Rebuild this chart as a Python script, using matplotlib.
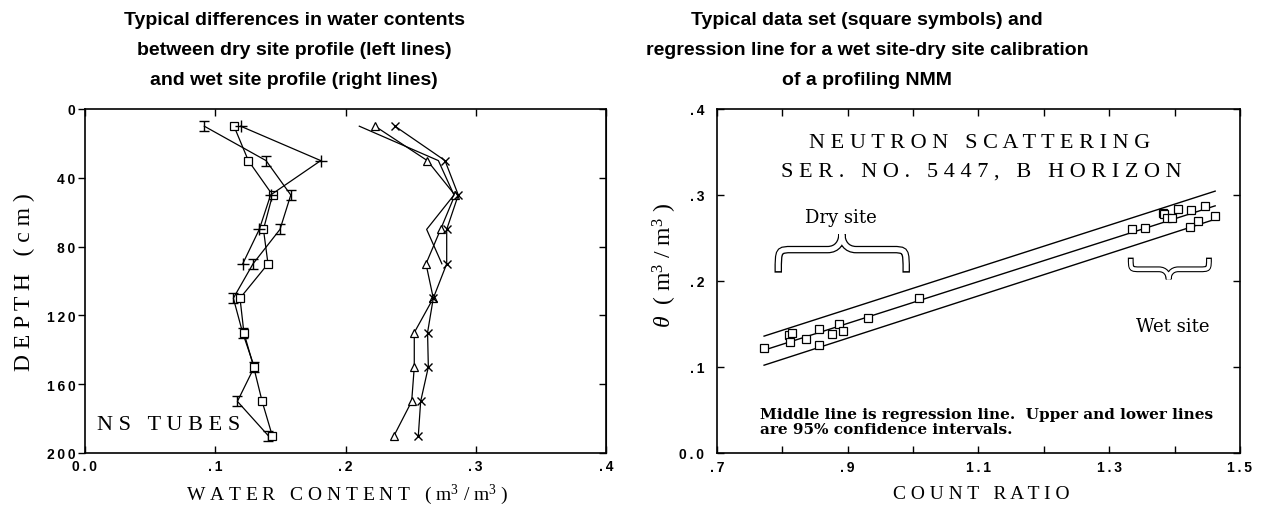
import numpy as np
import matplotlib
matplotlib.use('Agg')
import matplotlib.pyplot as plt
from matplotlib.path import Path
from matplotlib.patches import PathPatch

plt.rcParams['mathtext.fontset'] = 'custom'
plt.rcParams['mathtext.rm'] = 'Liberation Serif'
plt.rcParams['mathtext.it'] = 'Liberation Serif:italic'

# ---- left panel: water content profiles ----
depths = [10, 30, 50, 70, 90, 110, 130, 150, 170, 190]
dry_i = [0.0916, 0.139, 0.158, 0.1497, 0.129, 0.1139, 0.121, 0.130, 0.117, 0.1408]
dry_sq = [0.1144, 0.1254, 0.144, 0.137, 0.1405, 0.119, 0.122, 0.1295, 0.136, 0.1438]
dry_plus = [0.1195, 0.181, 0.1425, 0.1338, 0.1211]          # depths 10..90
wet_tri = [0.2227, 0.2628, 0.284, 0.273, 0.2618, 0.2674, 0.2528, 0.2528, 0.2508, 0.2372]
wet_x = [0.238, 0.2764, 0.2866, 0.2777, 0.2777, 0.2674, 0.263, 0.2636, 0.2577, 0.2559]
wet_plain = [0.2106, 0.2713, 0.2833, 0.2623, 0.274]         # depths 10..90

left_xticks = [0.0, 0.1, 0.2, 0.3, 0.4]
left_xlabels = ['0.0', '.1', '.2', '.3', '.4']
left_yticks = [0, 40, 80, 120, 160, 200]

# ---- right panel: calibration ----
count_ratio = [0.7717, 0.8103, 0.8147, 0.812, 0.8367, 0.856, 0.856, 0.8764, 0.8863, 0.893,
               0.9315, 1.0087, 1.335, 1.3544, 1.3825, 1.3836, 1.389, 1.3957, 1.4056, 1.425,
               1.436, 1.4233, 1.4465, 1.4619]
theta = [0.1216, 0.1367, 0.1398, 0.1289, 0.1324, 0.1437, 0.1254, 0.1379, 0.1495, 0.1414,
         0.1573, 0.1802, 0.261, 0.2614, 0.2785, 0.2777, 0.2738, 0.2738, 0.2843, 0.2827,
         0.27, 0.2629, 0.2874, 0.2757]
reg_x = [0.772, 1.462]
reg_mid = [0.1196, 0.2874]
reg_upper = [0.1359, 0.3045]
reg_lower = [0.1021, 0.2718]

right_xticks = [0.7, 0.8, 0.9, 1.0, 1.1, 1.2, 1.3, 1.4, 1.5]
right_xlabels = ['.7', '', '.9', '', '1.1', '', '1.3', '', '1.5']
right_yticks = [0.0, 0.1, 0.2, 0.3, 0.4]
right_ylabels = ['0.0', '.1', '.2', '.3', '.4']


def spaced(s):
    return '\u2009'.join(s)


tick_font = dict(family=['Liberation Sans', 'DejaVu Sans'], weight='bold', size=10)
serif = 'Liberation Serif'

W, H = 1265, 510
fig = plt.figure(figsize=(W / 100, H / 100), dpi=100)

ax1 = fig.add_axes([85 / W, 1 - 454 / H, 521 / W, 344 / H])
ax2 = fig.add_axes([717 / W, 1 - 454 / H, 523 / W, 344 / H])

# I-shaped marker
i_mark = Path([(-1, 1), (1, 1), (0, 1), (0, -1), (-1, -1), (1, -1)],
              [Path.MOVETO, Path.LINETO, Path.MOVETO, Path.LINETO, Path.MOVETO, Path.LINETO])

lk = dict(color='black', lw=0.9)
ax1.plot(dry_i, depths, marker=i_mark, ms=7, mew=1.0, **lk)
ax1.plot(dry_sq, depths, marker='s', ms=5.5, mfc='white', mew=0.9, **lk)
ax1.plot(dry_plus, depths[:5], marker='+', ms=8, mew=1.0, **lk)
ax1.plot(wet_tri, depths, marker='^', ms=6, mfc='white', mew=0.9, **lk)
ax1.plot(wet_x, depths, marker='x', ms=6, mew=1.0, **lk)
ax1.plot(wet_plain, depths[:5], **lk)

ax1.set_xlim(0, 0.4)
ax1.set_ylim(200, 0)
ax1.set_xticks(left_xticks)
ax1.set_xticklabels([spaced(t) for t in left_xlabels], fontdict=tick_font)
ax1.set_yticks(left_yticks)
ax1.set_yticklabels([spaced(str(t)) for t in left_yticks], fontdict=tick_font)
ax1.tick_params(axis='x', direction='in', top=True, length=5, width=1, pad=4)
ax1.tick_params(axis='y', direction='out', length=5, width=1, pad=2)
sec = ax1.secondary_yaxis('right')
sec.set_yticks(left_yticks)
sec.tick_params(direction='in', length=5, width=1, labelright=False)
ax1.text(0.0092, 183.5, 'N S   T U B E S', fontsize=16, family=serif, va='center', ha='left')

# right panel
ax2.plot(reg_x, reg_upper, color='black', lw=1)
ax2.plot(reg_x, reg_mid, color='black', lw=1)
ax2.plot(reg_x, reg_lower, color='black', lw=1)
ax2.plot(count_ratio, theta, ls='none', marker='s', ms=6, mfc='white', mec='black', mew=0.9)

ax2.set_xlim(0.7, 1.5)
ax2.set_ylim(0, 0.4)
ax2.set_xticks(right_xticks)
ax2.set_xticklabels([spaced(t) for t in right_xlabels], fontdict=tick_font)
ax2.set_yticks(right_yticks)
ax2.set_yticklabels([spaced(t) for t in right_ylabels], fontdict=tick_font)
ax2.tick_params(direction='in', top=True, right=True, length=5, width=1)
ax2.tick_params(axis='x', pad=5)
ax2.tick_params(axis='y', pad=9)

for ax in (ax1, ax2):
    for s in ax.spines.values():
        s.set_linewidth(1.2)


def brace_path(x0, x1, xm, y_end, y_bar, y_tip, w):
    verts = [(x0, y_end),
             (x0, y_bar), (x0, y_bar), (x0 + w, y_bar),
             (xm - w, y_bar),
             (xm - w * 0.3, y_bar), (xm, (y_bar + y_tip) / 2), (xm, y_tip),
             (xm, (y_bar + y_tip) / 2), (xm + w * 0.3, y_bar), (xm + w, y_bar),
             (x1 - w, y_bar),
             (x1, y_bar), (x1, y_bar), (x1, y_end)]
    codes = [Path.MOVETO] + [Path.CURVE4] * 3 + [Path.LINETO] + [Path.CURVE4] * 6 + \
            [Path.LINETO] + [Path.CURVE4] * 3
    return Path(verts, codes)


def brace(ax, x0, x1, xm, y_end, y_bar, y_tip, w, lw_out, lw_in, inset):
    # outlined (hollow) brace: thick black stroke, thinner white stroke inside
    outer = brace_path(x0, x1, xm, y_end, y_bar, y_tip, w)
    y_in = y_end + np.sign(y_bar - y_end) * inset
    inner = brace_path(x0, x1, xm, y_in, y_bar, y_tip, w)
    ax.add_patch(PathPatch(outer, fill=False, lw=lw_out, edgecolor='black', capstyle='butt'))
    ax.add_patch(PathPatch(inner, fill=False, lw=lw_in, edgecolor='white', capstyle='butt'))


brace(ax2, 0.7937, 0.9894, 0.891, 0.2097, 0.2365, 0.2544, 0.022, 5.4, 3.6, 0.0018)
brace(ax2, 1.3329, 1.4525, 1.3908, 0.2272, 0.2136, 0.2019, 0.015, 4.2, 2.6, 0.0016)

ax2.text(1.1024, 0.361, 'N E U T R O N   S C A T T E R I N G', fontsize=16, family=serif,
         ha='center', va='center')
ax2.text(1.105, 0.328, 'S E R .   N O .   5 4 4 7 ,   B   H O R I Z O N', fontsize=16,
         family=serif, ha='center', va='center')
ax2.text(0.89, 0.274, 'Dry site', fontsize=13, family='DejaVu Serif', ha='center', va='center')
ax2.text(1.397, 0.1476, 'Wet site', fontsize=13, family='DejaVu Serif', ha='center', va='center')
ax2.text(0.766, 0.0365, 'Middle line is regression line.  Upper and lower lines\n'
         'are 95% confidence intervals.', fontsize=11, family='DejaVu Serif',
         weight='bold', ha='left', va='center', linespacing=1.1)

# axis labels
fig.text(347 / W, 1 - 495 / H,
         'W A T E R   C O N T E N T   ( m$^{3}$ / m$^{3}$ )', fontsize=14, family=serif,
         ha='center', va='center')
fig.text(24 / W, 1 - 282 / H, 'D E P T H   ( c m )', fontsize=17, family=serif,
         rotation=90, ha='center', va='center')
fig.text(981 / W, 1 - 495 / H, 'C O U N T   R A T I O', fontsize=14, family=serif,
         ha='center', va='center')
fig.text(665 / W, 1 - 265 / H, r'$\mathit{\theta}$  ( m$^{3}$ / m$^{3}$ )', fontsize=17,
         family=serif, rotation=90, ha='center', va='center')

# titles
title_font = dict(family=['Liberation Sans', 'DejaVu Sans'], weight='bold', size=14)
fig.text(294 / W, 1 - 12 / H, 'Typical differences in water contents\n'
         'between dry site profile (left lines)\nand wet site profile (right lines)',
         ha='center', va='top', linespacing=2.0, **title_font)
fig.text(867 / W, 1 - 12 / H, 'Typical data set (square symbols) and\n'
         'regression line for a wet site-dry site calibration\nof a profiling NMM',
         ha='center', va='top', linespacing=2.0, **title_font)

fig.savefig('out.png', dpi=100)
